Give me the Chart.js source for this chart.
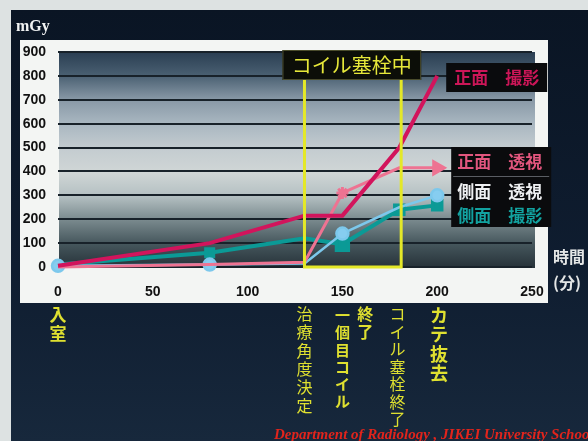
<!DOCTYPE html>
<html>
<head>
<meta charset="utf-8">
<script src="https://cdn.jsdelivr.net/npm/chart.js@4"></script>
<style>
  html, body { margin: 0; padding: 0; background: #0c1828; }
  canvas { display: block; }
</style>
</head>
<body>
<canvas id="doseChart" width="588" height="441"></canvas>
<script>
// 経過時間 (分) と各線量 (mGy)
const minutes = [0, 80, 130, 150, 180, 200];
const frontCine = [5, 100, 215, 215, 500, 800];
const frontFluoro = [0, 10, 20, 310, 415, 415];
const lateralFluoro = [5, 10, 15, 140, 250, 300];
const lateralCine = [10, 60, 120, 95, 240, 258];

const xTicks = [0, 50, 100, 150, 200, 250];
const yTicks = [0, 100, 200, 300, 400, 500, 600, 700, 800, 900];

// 塞栓中の区間
const embolStart = 130;
const embolEnd = 181;

// 時間軸の下に縦書きで入れるイベント
const events = [
  { at: 0, text: '入室', bold: true, size: 17, step: 19 },
  { at: 130, text: '治療角度決定', bold: false, size: 16, step: 18.3 },
  { at: 150, text: '一個目コイル', bold: true, size: 15, step: 17.2, dy: 2 },
  { at: 162, text: '終了', bold: true, size: 16, step: 18 },
  { at: 179, text: 'コイル塞栓終了', bold: false, size: 16, step: 17.5 },
  { at: 201, text: 'カテ抜去', bold: true, size: 18, step: 19.5 }
];

const JP = "'Noto Sans CJK JP', 'Noto Sans', sans-serif";

function toPoints(values) {
  return values.map((v, i) => ({ x: minutes[i], y: v }));
}

function drawVertical(ctx, text, x, top, step, font, color) {
  ctx.font = font;
  ctx.fillStyle = color;
  ctx.textAlign = 'center';
  ctx.textBaseline = 'top';
  [...text].forEach((ch, i) => ctx.fillText(ch, x, top + i * step));
}

function labelBox(ctx, x, y, w, h) {
  ctx.fillStyle = '#0a0b0d';
  ctx.fillRect(x, y, w, h);
}

const decor = {
  id: 'decor',
  beforeDraw(chart) {
    const { ctx, chartArea: a, width, height } = chart;
    ctx.save();
    ctx.fillStyle = '#dde2e2';
    ctx.fillRect(0, 0, width, height);

    const bg = ctx.createLinearGradient(0, 10, 0, height);
    bg.addColorStop(0, '#0a1524');
    bg.addColorStop(0.6, '#0f1d30');
    bg.addColorStop(1, '#17283c');
    ctx.fillStyle = bg;
    ctx.fillRect(11, 10, width - 11, height - 10);

    ctx.fillStyle = '#f3f5f3';
    ctx.fillRect(20, 40, 528, 263);

    const g = ctx.createLinearGradient(0, a.top, 0, a.bottom);
    g.addColorStop(0.00, '#2a3e52');
    g.addColorStop(0.11, '#4a6072');
    g.addColorStop(0.22, '#8898a6');
    g.addColorStop(0.33, '#a8b6c0');
    g.addColorStop(0.45, '#c4ccd0');
    g.addColorStop(0.56, '#d0d6d6');
    g.addColorStop(0.67, '#b4c0c2');
    g.addColorStop(0.78, '#7a8a8e');
    g.addColorStop(0.89, '#46575d');
    g.addColorStop(1.00, '#27333a');
    ctx.fillStyle = g;
    ctx.fillRect(a.left + 1, a.top, a.right - a.left + 2, a.bottom - a.top + 1);
    ctx.restore();
  },
  afterDatasetsDraw(chart) {
    const { ctx, chartArea: a, scales } = chart;
    const x0 = scales.x.getPixelForValue(embolStart);
    const x1 = scales.x.getPixelForValue(embolEnd);
    const xEnd = scales.x.getPixelForValue(200);
    ctx.save();

    // 塞栓中の枠
    ctx.strokeStyle = '#e4e828';
    ctx.lineWidth = 3;
    ctx.beginPath();
    ctx.moveTo(x0, 78);
    ctx.lineTo(x0, a.bottom);
    ctx.lineTo(x1, a.bottom);
    ctx.lineTo(x1, 78);
    ctx.stroke();

    ctx.fillStyle = '#0c0e08';
    ctx.fillRect(x0 - 22, 50, x1 - x0 + 42, 30);
    ctx.strokeStyle = '#4a4c2c';
    ctx.lineWidth = 1;
    ctx.strokeRect(x0 - 21.5, 50.5, x1 - x0 + 41, 29);
    ctx.font = '20px ' + JP;
    ctx.fillStyle = '#e6e83a';
    ctx.textAlign = 'center';
    ctx.textBaseline = 'middle';
    ctx.fillText('コイル塞栓中', (x0 + x1) / 2 - 1, 65);

    // 系列名
    ctx.font = 'bold 17px ' + JP;
    ctx.textAlign = 'left';
    labelBox(ctx, xEnd + 9, 63, 101, 29);
    ctx.fillStyle = '#cc1658';
    ctx.fillText('正面　撮影', xEnd + 17, 78);

    labelBox(ctx, xEnd + 14, 147, 100, 80);
    ctx.fillStyle = '#5a5e64';
    ctx.fillRect(xEnd + 16, 176, 96, 1);
    ctx.fillStyle = '#e2567e';
    ctx.fillText('正面　透視', xEnd + 20, 162);
    ctx.fillStyle = '#eef0f2';
    ctx.fillText('側面　透視', xEnd + 20, 192);
    ctx.fillStyle = '#12a2a0';
    ctx.fillText('側面　撮影', xEnd + 20, 216);
    ctx.restore();
  },
  afterDraw(chart) {
    const { ctx, scales } = chart;
    ctx.save();
    ctx.font = 'bold 16px "Liberation Serif", serif';
    ctx.fillStyle = '#f0f2f2';
    ctx.textAlign = 'left';
    ctx.textBaseline = 'middle';
    ctx.fillText('mGy', 16, 27);

    ctx.font = 'bold 16px ' + JP;
    ctx.fillStyle = '#e4e6e6';
    ctx.fillText('時間', 553, 257);
    ctx.fillText('(分)', 553, 283);

    events.forEach(ev => {
      const x = scales.x.getPixelForValue(ev.at);
      drawVertical(ctx, ev.text, x, 306 + (ev.dy || 0), ev.step,
        (ev.bold ? 'bold ' : '') + ev.size + 'px ' + JP, '#dfe030');
    });

    ctx.font = 'italic bold 15px "Liberation Serif", serif';
    ctx.fillStyle = '#e2241c';
    ctx.textAlign = 'left';
    ctx.textBaseline = 'middle';
    ctx.fillText('Department of Radiology , JIKEI University School', 274, 435);
    ctx.restore();
  }
};

const ctx = document.getElementById('doseChart').getContext('2d');
new Chart(ctx, {
  type: 'line',
  data: {
    datasets: [
      {
        label: '側面 撮影',
        data: toPoints(lateralCine),
        borderColor: '#0b9a96',
        backgroundColor: '#0b9a96',
        borderWidth: 4,
        pointStyle: 'rect',
        pointRadius: [0, 5, 0, 8, 6, 6],
        clip: false,
        order: 4
      },
      {
        label: '側面 透視',
        data: toPoints(lateralFluoro),
        borderColor: '#7cc8ec',
        backgroundColor: '#86cdf0',
        borderWidth: 2.5,
        pointStyle: 'circle',
        pointRadius: [6, 6, 0, 6, 0, 6],
        clip: false,
        order: 3
      },
      {
        label: '正面 透視',
        data: toPoints(frontFluoro),
        borderColor: '#ee7392',
        backgroundColor: '#ee7392',
        borderWidth: 3,
        pointStyle: ['circle', 'circle', 'circle', 'star', 'circle', 'triangle'],
        rotation: [0, 0, 0, 0, 0, 90],
        pointRadius: [0, 0, 0, 6, 0, 7],
        pointBorderWidth: 3,
        clip: false,
        order: 2
      },
      {
        label: '正面 撮影',
        data: toPoints(frontCine),
        borderColor: '#d2145c',
        backgroundColor: '#d2145c',
        borderWidth: 4,
        pointRadius: 0,
        clip: false,
        order: 1
      }
    ]
  },
  options: {
    responsive: false,
    animation: false,
    layout: { padding: { left: 0, top: 52, right: 56, bottom: 134 } },
    plugins: {
      legend: { display: false },
      tooltip: { enabled: false }
    },
    scales: {
      x: {
        type: 'linear',
        min: 0,
        max: 250,
        afterFit: scale => { scale.height = 40; },
        afterBuildTicks: scale => { scale.ticks = xTicks.map(v => ({ value: v })); },
        grid: { display: false, drawTicks: false },
        border: { display: false },
        ticks: {
          padding: 17,
          color: '#111',
          font: { family: "'Liberation Sans', Arial, sans-serif", size: 14, weight: 'bold' }
        }
      },
      y: {
        min: 0,
        max: 900,
        afterFit: scale => { scale.width = 58; },
        afterBuildTicks: scale => { scale.ticks = yTicks.map(v => ({ value: v })); },
        grid: { color: '#18222a', lineWidth: 2, drawTicks: false },
        border: { display: false },
        ticks: {
          padding: 12,
          color: '#111',
          font: { family: "'Liberation Sans', Arial, sans-serif", size: 14, weight: 'bold' }
        }
      }
    }
  },
  plugins: [decor]
});
</script>
</body>
</html>
